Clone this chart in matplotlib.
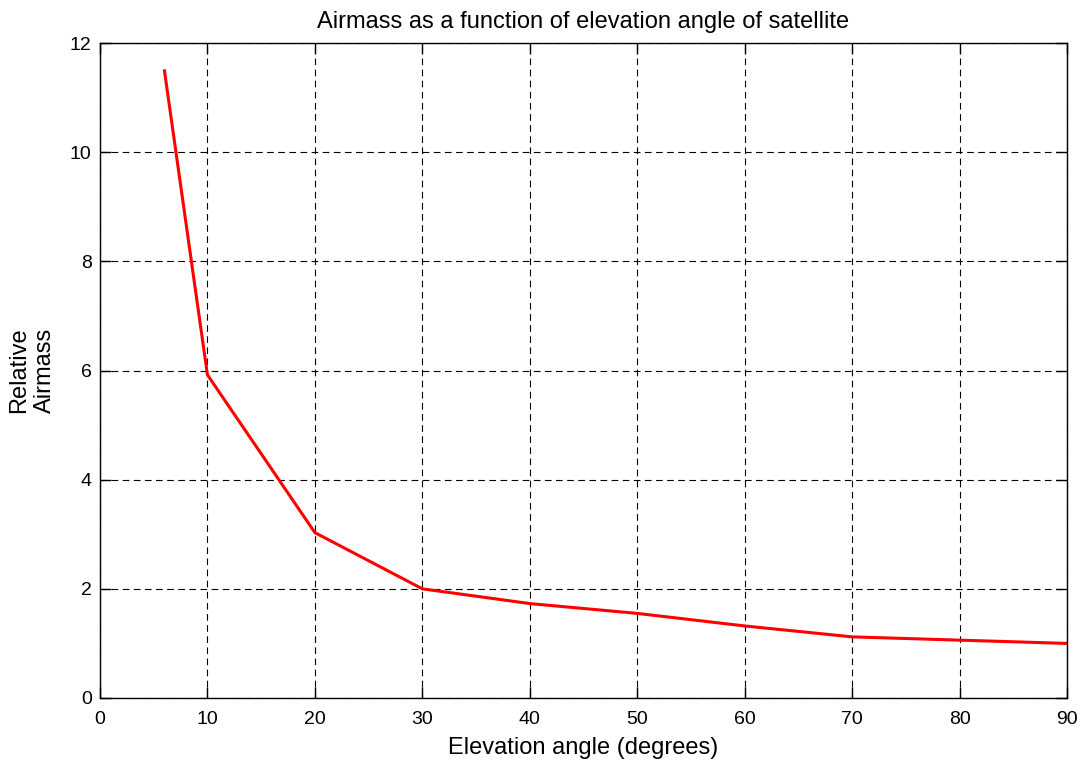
import matplotlib
matplotlib.use("Agg")
import matplotlib.pyplot as plt

elevation = [6, 10, 20, 30, 40, 50, 60, 70, 80, 90]
airmass = [11.49, 5.92, 3.03, 2.0, 1.73, 1.55, 1.32, 1.12, 1.06, 1.0]
xticks = [0, 10, 20, 30, 40, 50, 60, 70, 80, 90]
yticks = [0, 2, 4, 6, 8, 10, 12]

plt.rcParams['font.family'] = ['Liberation Sans', 'DejaVu Sans']

fig = plt.figure(figsize=(10.85, 7.6), dpi=100)
ax = fig.add_axes([100/1085, 1 - 698/760, 967/1085, 655/760])
ax.plot(elevation, airmass, color='red', linewidth=2.2)
ax.set_xlim(0, 90)
ax.set_ylim(0, 12)
ax.set_xticks(xticks)
ax.set_yticks(yticks)
ax.tick_params(direction='in', top=True, right=True, labelsize=14, length=8, width=1)
ax.tick_params(axis='x', pad=9)
ax.tick_params(axis='y', pad=6)
ax.grid(True, color='black', linestyle=(0, (6, 4)), linewidth=0.8)
for s in ax.spines.values():
    s.set_linewidth(1.0)
ax.set_xlabel('Elevation angle (degrees)', fontsize=17, labelpad=7)
ax.set_ylabel('Relative\nAirmass', fontsize=17, linespacing=1.25)
ax.yaxis.set_label_coords(-44/967, 0.5)
ax.set_title('Airmass as a function of elevation angle of satellite', fontsize=17, pad=11)
fig.savefig('out.png', dpi=100)
